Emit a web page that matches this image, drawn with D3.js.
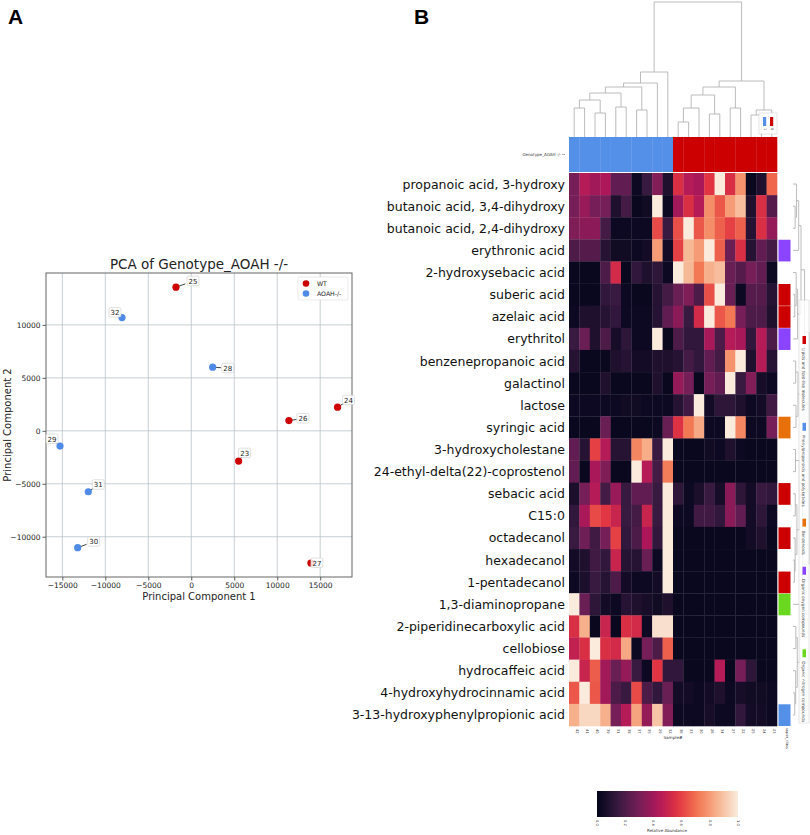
<!DOCTYPE html>
<html>
<head>
<meta charset="utf-8">
<script src="https://cdn.jsdelivr.net/npm/d3@7"></script>
<style>
  body { margin: 0; background: #fff; }
  text { font-family: "DejaVu Sans", sans-serif; }
</style>
</head>
<body>
<svg id="fig" width="810" height="835"></svg>
<script>
// ---------- data: PCA (panel A) ----------
const pcaSamples = ["25", "32", "28", "26", "24", "23", "29", "31", "30", "27"];
const pcaGroups = ["WT", "AOAH-/-", "AOAH-/-", "WT", "WT", "WT", "AOAH-/-", "AOAH-/-", "AOAH-/-", "WT"];
const pc1 = [-1780, -8060, 2490, 11360, 17020, 5510, -15270, -11980, -13210, 13920];
const pc2 = [13560, 10690, 6010, 970, 2230, -2860, -1440, -5750, -11030, -12480];
const pcaXTicks = [-15000, -10000, -5000, 0, 5000, 10000, 15000];
const pcaYTicks = [-10000, -5000, 0, 5000, 10000];
// label nudges (px) like adjustText gives
const labelNudge = [[17, -6], [-7, -5], [15, 1], [14, -2], [11, -7], [6, -8], [-8, -7], [10, -7], [16, -6], [6, 0]];

// ---------- data: clustermap (panel B) ----------
const metabolites = [
  "propanoic acid, 3-hydroxy", "butanoic acid, 3,4-dihydroxy", "butanoic acid, 2,4-dihydroxy",
  "erythronic acid", "2-hydroxysebacic acid", "suberic acid", "azelaic acid", "erythritol",
  "benzenepropanoic acid", "galactinol", "lactose", "syringic acid", "3-hydroxycholestane",
  "24-ethyl-delta(22)-coprostenol", "sebacic acid", "C15:0", "octadecanol", "hexadecanol",
  "1-pentadecanol", "1,3-diaminopropane", "2-piperidinecarboxylic acid", "cellobiose",
  "hydrocaffeic acid", "4-hydroxyhydrocinnamic acid", "3-13-hydroxyphenylpropionic acid"
];
const sampleIds = ["42", "41", "40", "39", "31", "38", "37", "35", "29", "32",
                   "36", "33", "30", "26", "34", "27", "22", "25", "24", "23"];
const genotype = [1, 1, 1, 1, 1, 1, 1, 1, 1, 1, 0, 0, 0, 0, 0, 0, 0, 0, 0, 0];
const superClass = [
  "", "", "", "Organic oxygen compounds", "", "Lipids and lipid-like molecules",
  "Lipids and lipid-like molecules", "Organic oxygen compounds", "", "", "", "Benzenoids", "", "",
  "Lipids and lipid-like molecules", "", "Lipids and lipid-like molecules", "",
  "Lipids and lipid-like molecules", "Organic nitrogen compounds", "", "", "", "",
  "Phenylpropanoids and polyketides"
];
const superClassNames = ["Lipids and lipid-like molecules", "Phenylpropanoids and polyketides",
  "Benzenoids", "Organic oxygen compounds", "Organic nitrogen compounds"];
const superClassColors = ["#cc0000", "#5590e8", "#e8700a", "#8a44ff", "#6ad81e"];

// relative abundance, one row per metabolite, one column per sample
const abundance = [
  [0.30, 0.45, 0.40, 0.43, 0.25, 0.25, 0.03, 0.15, 0.33, 0.08, 0.55, 0.45, 0.42, 0.57, 1.00, 0.55, 0.78, 0.02, 0.08, 0.68],
  [0.30, 0.38, 0.30, 0.30, 0.08, 0.18, 0.02, 0.04, 1.00, 0.03, 0.40, 0.55, 0.45, 0.77, 0.65, 0.80, 0.88, 0.08, 0.55, 0.22],
  [0.32, 0.35, 0.35, 0.18, 0.03, 0.03, 0.03, 0.03, 0.62, 0.15, 0.63, 1.00, 0.65, 0.77, 0.67, 0.60, 0.67, 0.10, 0.55, 0.37],
  [0.20, 0.22, 0.22, 0.10, 0.04, 0.04, 0.03, 0.05, 0.80, 0.05, 0.60, 0.87, 0.80, 1.00, 0.67, 0.27, 0.55, 0.10, 0.25, 0.18],
  [0.02, 0.02, 0.02, 0.20, 0.53, 0.02, 0.13, 0.08, 0.12, 0.03, 1.00, 0.87, 0.72, 0.85, 0.88, 0.27, 0.22, 0.30, 0.25, 0.03],
  [0.02, 0.02, 0.02, 0.13, 0.15, 0.03, 0.02, 0.02, 0.10, 0.18, 0.27, 0.32, 0.20, 0.63, 1.00, 0.27, 0.03, 0.22, 0.22, 0.10],
  [0.03, 0.08, 0.08, 0.10, 0.13, 0.03, 0.03, 0.03, 0.10, 0.25, 0.35, 0.15, 0.53, 1.00, 0.65, 0.72, 0.30, 0.20, 0.20, 0.08],
  [0.15, 0.27, 0.08, 0.20, 0.06, 0.12, 0.03, 0.03, 1.00, 0.02, 0.20, 0.13, 0.13, 0.42, 0.20, 0.45, 0.42, 0.13, 0.45, 0.20],
  [0.10, 0.02, 0.02, 0.02, 0.08, 0.10, 0.05, 0.05, 0.08, 0.08, 0.10, 0.18, 0.13, 0.25, 0.18, 0.78, 1.00, 0.08, 0.45, 0.10],
  [0.02, 0.02, 0.02, 0.08, 0.02, 0.02, 0.02, 0.02, 0.08, 0.02, 0.37, 0.30, 0.02, 0.30, 0.25, 1.00, 0.15, 0.33, 0.06, 0.03],
  [0.03, 0.03, 0.03, 0.03, 0.03, 0.04, 0.04, 0.03, 0.03, 0.03, 0.10, 0.17, 1.00, 0.05, 0.12, 0.12, 0.08, 0.03, 0.05, 0.17],
  [0.02, 0.02, 0.02, 0.27, 0.02, 0.02, 0.02, 0.02, 0.03, 0.27, 0.56, 0.72, 0.83, 0.03, 0.03, 1.00, 0.75, 0.03, 0.03, 0.30],
  [0.25, 0.10, 0.60, 0.45, 0.10, 0.10, 0.75, 0.84, 0.15, 1.00, 0.02, 0.02, 0.02, 0.04, 0.03, 0.08, 0.03, 0.02, 0.02, 0.02],
  [0.25, 0.02, 0.42, 0.32, 0.02, 0.02, 1.00, 0.45, 0.18, 0.73, 0.02, 0.02, 0.02, 0.02, 0.02, 0.02, 0.02, 0.02, 0.02, 0.02],
  [0.07, 0.30, 0.45, 0.18, 0.38, 0.15, 0.25, 0.25, 0.15, 1.00, 0.12, 0.03, 0.07, 0.15, 0.06, 0.35, 0.12, 0.05, 0.15, 0.13],
  [0.13, 0.42, 0.62, 0.58, 0.50, 0.15, 0.18, 0.50, 0.15, 1.00, 0.03, 0.03, 0.17, 0.17, 0.13, 0.35, 0.25, 0.05, 0.12, 0.03],
  [0.15, 0.28, 0.17, 0.30, 0.60, 0.13, 0.20, 0.43, 0.13, 1.00, 0.02, 0.02, 0.02, 0.02, 0.02, 0.02, 0.02, 0.05, 0.08, 0.02],
  [0.05, 0.08, 0.17, 0.13, 0.50, 0.10, 0.10, 0.27, 0.03, 1.00, 0.02, 0.02, 0.02, 0.02, 0.02, 0.02, 0.02, 0.02, 0.02, 0.02],
  [0.03, 0.07, 0.15, 0.10, 0.20, 0.05, 0.03, 0.03, 0.05, 1.00, 0.02, 0.02, 0.02, 0.02, 0.02, 0.02, 0.02, 0.02, 0.02, 0.02],
  [1.00, 0.27, 0.12, 0.05, 0.03, 0.10, 0.08, 0.06, 0.04, 0.08, 0.02, 0.02, 0.02, 0.02, 0.02, 0.02, 0.02, 0.02, 0.02, 0.02],
  [0.55, 0.85, 0.02, 0.50, 0.02, 0.55, 0.53, 0.03, 0.97, 0.97, 0.02, 0.02, 0.02, 0.02, 0.02, 0.02, 0.02, 0.02, 0.02, 0.02],
  [0.48, 0.55, 1.00, 0.55, 0.53, 0.83, 0.03, 0.30, 0.20, 0.67, 0.02, 0.02, 0.02, 0.02, 0.02, 0.02, 0.02, 0.02, 0.02, 0.02],
  [1.00, 0.50, 0.66, 0.40, 0.27, 0.37, 0.15, 0.03, 0.57, 0.13, 0.13, 0.02, 0.02, 0.02, 0.45, 0.02, 0.30, 0.12, 0.02, 0.02],
  [0.65, 1.00, 0.65, 0.40, 0.20, 0.15, 0.62, 0.20, 0.13, 0.27, 0.05, 0.05, 0.03, 0.05, 0.08, 0.03, 0.06, 0.04, 0.04, 0.03],
  [0.85, 0.95, 0.95, 0.85, 0.30, 0.45, 0.82, 0.37, 0.90, 0.33, 0.03, 0.03, 0.03, 0.06, 0.03, 0.03, 0.13, 0.05, 0.05, 0.03]
];

// linkage trees: [left, right, height]; numbers are leaf indices
const colTree = [
  [[[[[[0, 1, 29], [2, 3, 24], 37], [4, 5, 30], 44], [6, 7, 27], 50], 8, 54], 9, 65],
  [[[[[10, 11, 15], 12, 29], [13, 14, 23], 42], [15, 16, 29], 50], [[17, 18, 22], 19, 27], 56],
  135];
const rowTree = [
  [[[[0, [1, 2, 1.2], 2.0], 3, 3.2], [[4, [5, 6, 1.0], 1.8], 7, 2.6], 4.5],
    [[8, 9, 1.5], [10, 11, 1.7], 2.8], 6.5],
  [[[12, 13, 1.4], [[14, 15, 1.3], [16, [17, 18, 0.8], 1.2], 2.2], 3.6],
    [19, [[20, 21, 1.6], [22, [23, 24, 1.0], 1.5], 2.4], 3.8], 5.5],
  9];
const cbarTicks = [0, 0.2, 0.4, 0.6, 0.8, 1.0];

// seaborn "rocket"
const rocket = d3.scaleLinear()
  .domain([0, 0.143, 0.286, 0.429, 0.571, 0.714, 0.857, 1])
  .range(["#03051a", "#35193e", "#701f57", "#ad1759", "#e13342", "#f37651", "#f6b48f", "#faebdd"])
  .interpolate(d3.interpolateRgb);

const svg = d3.select("#fig");
const groupColor = { "WT": "#cc0000", "AOAH-/-": "#4f8ae6" };

// panel letters
svg.append("text").attr("x", 8).attr("y", 24).attr("font-size", 21).attr("font-weight", "bold")
  .style("font-family", "Liberation Sans, Arial, sans-serif").text("A");
svg.append("text").attr("x", 414).attr("y", 24).attr("font-size", 21).attr("font-weight", "bold")
  .style("font-family", "Liberation Sans, Arial, sans-serif").text("B");

// ===================== A: PCA =====================
const px = d3.scaleLinear().domain([-16900, 18700]).range([46, 352]);
const py = d3.scaleLinear().domain([-13800, 14900]).range([577, 273]);
const pca = svg.append("g");
const minus = d => (d < 0 ? "\u2212" + Math.abs(d) : String(d));

pca.append("g").selectAll("line").data(pcaXTicks).join("line")
  .attr("x1", d => px(d)).attr("x2", d => px(d)).attr("y1", 273).attr("y2", 577)
  .attr("stroke", "#b9c3c8").attr("stroke-width", 0.8);
pca.append("g").selectAll("line").data(pcaYTicks).join("line")
  .attr("y1", d => py(d)).attr("y2", d => py(d)).attr("x1", 46).attr("x2", 352)
  .attr("stroke", "#b9c3c8").attr("stroke-width", 0.8);

const xAxis = pca.append("g").attr("transform", "translate(0,577)")
  .call(d3.axisBottom(px).tickValues(pcaXTicks).tickSize(3.5).tickPadding(2).tickFormat(minus));
const yAxis = pca.append("g").attr("transform", "translate(46,0)")
  .call(d3.axisLeft(py).tickValues(pcaYTicks).tickSize(3.5).tickPadding(2).tickFormat(minus));
[xAxis, yAxis].forEach(a => {
  a.select(".domain").remove();
  a.selectAll("text").attr("font-size", 7.5).attr("fill", "#222").style("font-family", "DejaVu Sans");
  a.selectAll("line").attr("stroke", "#333").attr("stroke-width", 0.8);
});
pca.append("rect").attr("x", 46).attr("y", 273).attr("width", 306).attr("height", 304)
  .attr("fill", "none").attr("stroke", "#555").attr("stroke-width", 0.9);

pca.append("text").attr("x", 199).attr("y", 269).attr("text-anchor", "middle")
  .attr("font-size", 13.5).attr("fill", "#222").text("PCA of Genotype_AOAH -/-");
pca.append("text").attr("x", 199).attr("y", 600).attr("text-anchor", "middle")
  .attr("font-size", 10).attr("fill", "#222").text("Principal Component 1");
pca.append("text").attr("transform", "translate(11,425) rotate(-90)").attr("text-anchor", "middle")
  .attr("font-size", 10).attr("fill", "#222").text("Principal Component 2");

const pts = pcaSamples.map((s, i) => ({ s, g: pcaGroups[i], x: px(pc1[i]), y: py(pc2[i]), n: labelNudge[i] }));
pca.append("g").selectAll("line").data(pts).join("line")
  .attr("x1", d => d.x).attr("y1", d => d.y)
  .attr("x2", d => d.x + d.n[0] * 0.55).attr("y2", d => d.y + d.n[1] * 0.55)
  .attr("stroke", "#111").attr("stroke-width", 0.8);
pca.append("g").selectAll("circle").data(pts).join("circle")
  .attr("cx", d => d.x).attr("cy", d => d.y).attr("r", 3.6).attr("fill", d => groupColor[d.g]);
const lab = pca.append("g").selectAll("g").data(pts).join("g")
  .attr("transform", d => `translate(${d.x + d.n[0]},${d.y + d.n[1]})`);
lab.append("rect").attr("x", -6).attr("y", -5).attr("width", 12).attr("height", 9.5).attr("rx", 1.5)
  .attr("fill", "#fff").attr("fill-opacity", 0.85).attr("stroke", "#ccc").attr("stroke-width", 0.6);
lab.append("text").attr("text-anchor", "middle").attr("y", 2.5).attr("font-size", 7).attr("fill", "#222")
  .text(d => d.s);

const pleg = pca.append("g").attr("transform", "translate(298,277)");
pleg.append("rect").attr("width", 50).attr("height", 23).attr("rx", 2)
  .attr("fill", "#fff").attr("stroke", "#ddd").attr("stroke-width", 0.6);
["WT", "AOAH-/-"].forEach((g, i) => {
  pleg.append("circle").attr("cx", 8).attr("cy", 6.5 + i * 10).attr("r", 3.3).attr("fill", groupColor[g]);
  pleg.append("text").attr("x", 19).attr("y", 9 + i * 10).attr("font-size", 6.2).attr("fill", "#222").text(g);
});

// ===================== B: clustermap =====================
const hx = d3.scaleBand().domain(d3.range(sampleIds.length)).range([569, 777]);
const hy = d3.scaleBand().domain(d3.range(metabolites.length)).range([173, 726]);
const hm = svg.append("g");

abundance.forEach((row, r) => {
  hm.append("g").selectAll("rect").data(row).join("rect")
    .attr("x", (d, c) => hx(c)).attr("y", hy(r))
    .attr("width", hx.bandwidth() + 0.3).attr("height", hy.bandwidth() + 0.3)
    .attr("fill", d => rocket(d));
});

hm.append("g").selectAll("text").data(metabolites).join("text")
  .attr("x", 565).attr("y", (d, i) => hy(i) + hy.bandwidth() / 2 + 4.5)
  .attr("text-anchor", "end").attr("font-size", 12.5).attr("fill", "#111").text(d => d);

// genotype column colours
hm.append("g").selectAll("rect").data(genotype).join("rect")
  .attr("x", (d, i) => hx(i)).attr("y", 137).attr("width", hx.bandwidth() + 0.3).attr("height", 35)
  .attr("fill", d => (d === 1 ? "#5590e8" : "#cc0000"));
hm.append("text").attr("x", 561).attr("y", 156).attr("text-anchor", "end").attr("font-size", 4)
  .attr("fill", "#333").text("Genotype_AOAH -/-");
hm.append("line").attr("x1", 562).attr("x2", 565).attr("y1", 154.5).attr("y2", 154.5)
  .attr("stroke", "#555").attr("stroke-width", 0.5);

// super class row colours
const scColor = d3.scaleOrdinal().domain(superClassNames).range(superClassColors);
hm.append("g").selectAll("rect").data(superClass).join("rect")
  .attr("x", 778.5).attr("y", (d, i) => hy(i) + 0.4).attr("width", 12).attr("height", hy.bandwidth() - 0.4)
  .attr("fill", d => (d ? scColor(d) : "#fff"));

// sample tick labels
hm.append("g").selectAll("text").data(sampleIds).join("text")
  .attr("transform", (d, i) => `translate(${hx(i) + hx.bandwidth() / 2 + 1.3},729) rotate(90)`)
  .attr("font-size", 3.6).attr("fill", "#333").text(d => d);
hm.append("text").attr("transform", "translate(786,728) rotate(90)").attr("font-size", 3.6)
  .attr("fill", "#333").text("super_class");
hm.append("text").attr("x", 673).attr("y", 739).attr("text-anchor", "middle").attr("font-size", 4.2)
  .attr("fill", "#333").text("Sample#");

// dendrograms
function drawTree(g, node, leafPos, hPos, vertical) {
  if (typeof node === "number") return { p: leafPos(node), h: 0 };
  const a = drawTree(g, node[0], leafPos, hPos, vertical);
  const b = drawTree(g, node[1], leafPos, hPos, vertical);
  const h = node[2];
  const path = vertical
    ? `M${a.p},${hPos(a.h)}V${hPos(h)}H${b.p}V${hPos(b.h)}`
    : `M${hPos(a.h)},${a.p}H${hPos(h)}V${b.p}H${hPos(b.h)}`;
  g.append("path").attr("d", path).attr("fill", "none").attr("stroke", "#b4b4b4").attr("stroke-width", 0.9);
  return { p: (a.p + b.p) / 2, h };
}
const colH = d3.scaleLinear().domain([0, 135]).range([137, 2]);
drawTree(hm.append("g"), colTree, i => hx(i) + hx.bandwidth() / 2, colH, true);
const rowH = d3.scaleLinear().domain([0, 9]).range([793, 809]);
drawTree(hm.append("g"), rowTree, i => hy(i) + hy.bandwidth() / 2, rowH, false);

// small genotype legend
const gl = hm.append("g").attr("transform", "translate(759,113)");
gl.append("rect").attr("width", 18).attr("height", 21).attr("fill", "#fff").attr("fill-opacity", 0.85)
  .attr("stroke", "#ccc").attr("stroke-width", 0.5);
[["1", "#5590e8"], ["0", "#cc0000"]].forEach((d, i) => {
  gl.append("rect").attr("x", 4 + i * 7).attr("y", 4).attr("width", 3.2).attr("height", 9).attr("fill", d[1]);
  gl.append("text").attr("transform", `translate(${4.5 + i * 7},15) rotate(90)`).attr("font-size", 3.5)
    .attr("fill", "#333").text(d[0]);
});

// super class legend (rotated)
const sl = hm.append("g").attr("transform", "translate(799,300)");
sl.append("rect").attr("width", 10).attr("height", 423).attr("fill", "#fff").attr("fill-opacity", 0.8)
  .attr("stroke", "#ccc").attr("stroke-width", 0.5);
let off = 36;
superClassNames.forEach((n, i) => {
  sl.append("rect").attr("x", 3.5).attr("y", off).attr("width", 3.5).attr("height", 8).attr("fill", superClassColors[i]);
  const t = sl.append("text").attr("transform", `translate(3.3,${off + 12}) rotate(90)`)
    .attr("font-size", 4.2).attr("fill", "#333").text(n);
  off += 12 + t.node().getComputedTextLength() + 12;
});

// colour bar
const cbx = d3.scaleLinear().domain([0, 1]).range([597, 738]);
const defs = svg.append("defs");
const grad = defs.append("linearGradient").attr("id", "rk");
d3.range(0, 1.001, 0.05).forEach(t => grad.append("stop").attr("offset", t).attr("stop-color", rocket(t)));
hm.append("rect").attr("x", 597).attr("y", 791).attr("width", 141).attr("height", 26).attr("fill", "url(#rk)");
hm.append("g").selectAll("text").data(cbarTicks).join("text")
  .attr("transform", d => `translate(${cbx(d) - 1.3},820) rotate(90)`)
  .attr("font-size", 3.6).attr("fill", "#333").text(d => d.toFixed(1));
hm.append("text").attr("x", 667).attr("y", 832).attr("text-anchor", "middle").attr("font-size", 4)
  .attr("fill", "#333").text("Relative Abundance");
</script>
</body>
</html>
